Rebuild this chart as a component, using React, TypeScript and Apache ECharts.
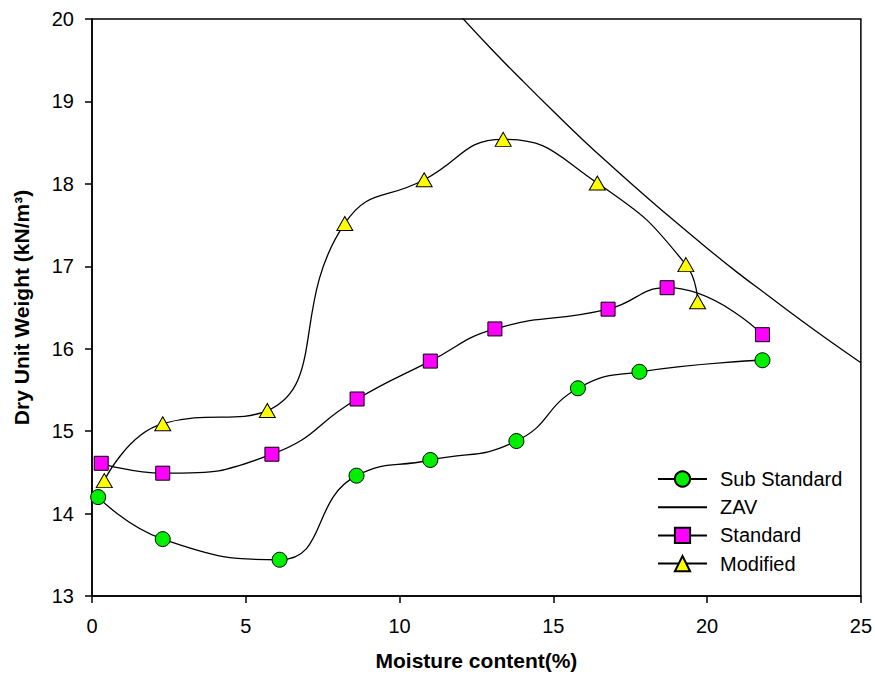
import React, { useEffect, useRef } from "react";
import * as echarts from "echarts";

const subStdX = [0.2, 2.3, 6.1, 8.6, 11.0, 13.8, 15.8, 17.8, 21.8];
const subStdY = [14.2, 13.69, 13.44, 14.46, 14.65, 14.88, 15.52, 15.72, 15.86];

const stdX = [0.3, 2.3, 5.85, 8.62, 11.0, 13.1, 16.78, 18.7, 21.8];
const stdY = [14.61, 14.49, 14.72, 15.39, 15.85, 16.24, 16.48, 16.74, 16.17];

const modX = [0.4, 2.3, 5.7, 8.22, 10.8, 13.37, 16.43, 19.31, 19.69];
const modY = [14.4, 15.09, 15.25, 17.52, 18.05, 18.54, 18.01, 17.02, 16.57];

const zavX = [12, 13, 14, 15, 16, 17, 18, 19, 20, 21, 22, 23, 24, 25];
const zavY = [20.03, 19.63, 19.25, 18.88, 18.52, 18.18, 17.85, 17.53, 17.22, 16.92, 16.64, 16.36, 16.09, 15.83];

const xTicks = [0, 5, 10, 15, 20, 25];
const yTicks = [13, 14, 15, 16, 17, 18, 19, 20];

const pairs = (xs: number[], ys: number[]) => xs.map((x, i) => [x, ys[i]]);

const FONT = "'Liberation Sans', Arial, Helvetica, sans-serif";

export default function App() {
  const ref = useRef<HTMLDivElement>(null);
  useEffect(() => {
    if (!ref.current) return;
    const chart = echarts.init(ref.current, undefined, { renderer: "svg" });
    const lineStyle = { color: "#000", width: 1.3 };
    chart.setOption({
      animation: false,
      backgroundColor: "#fff",
      textStyle: { fontFamily: FONT },
      grid: {
        left: 92,
        right: 14,
        top: 19,
        bottom: 81,
        show: true,
        borderColor: "#000",
        borderWidth: 1.5,
        backgroundColor: "transparent",
      },
      legend: {
        orient: "vertical",
        left: 652,
        top: 464,
        itemWidth: 49,
        itemHeight: 19,
        itemGap: 8.2,
        textStyle: { fontSize: 20, color: "#000", fontFamily: FONT, padding: [0, 0, 0, 8] },
        data: [
          "Sub Standard",
          { name: "ZAV", itemStyle: { color: "transparent", borderColor: "transparent", borderWidth: 0 } },
          "Standard",
          "Modified",
        ],
      },
      xAxis: {
        type: "value",
        min: xTicks[0],
        max: xTicks[xTicks.length - 1],
        interval: 5,
        name: "Moisture content(%)",
        nameLocation: "middle",
        nameGap: 54,
        nameTextStyle: { fontSize: 21, fontWeight: "bold", color: "#000", fontFamily: FONT },
        axisLine: { show: true, lineStyle: { color: "#000", width: 1.5 } },
        axisTick: { show: true, length: 7, lineStyle: { color: "#000", width: 1.5 } },
        axisLabel: { fontSize: 20, color: "#000", margin: 20, fontFamily: FONT },
        splitLine: { show: false },
      },
      yAxis: {
        type: "value",
        min: yTicks[0],
        max: yTicks[yTicks.length - 1],
        interval: 1,
        name: "Dry Unit Weight (kN/m³)",
        nameLocation: "middle",
        nameGap: 60,
        nameTextStyle: { fontSize: 21, fontWeight: "bold", color: "#000", fontFamily: FONT },
        axisLine: { show: true, lineStyle: { color: "#000", width: 1.5 } },
        axisTick: { show: true, length: 7, lineStyle: { color: "#000", width: 1.5 } },
        axisLabel: { fontSize: 20, color: "#000", margin: 18, fontFamily: FONT },
        splitLine: { show: false },
      },
      series: [
        {
          name: "Sub Standard",
          type: "line",
          data: pairs(subStdX, subStdY),
          smooth: 0.5,
          symbol: "circle",
          symbolSize: 15,
          lineStyle,
          itemStyle: { color: "#00ee00", borderColor: "#000", borderWidth: 1 },
          z: 3,
        },
        {
          name: "ZAV",
          type: "line",
          data: pairs(zavX, zavY),
          smooth: true,
          symbol: "none",
          lineStyle,
          itemStyle: { color: "#000" },
          z: 2,
        },
        {
          name: "Standard",
          type: "line",
          data: pairs(stdX, stdY),
          smooth: 0.5,
          symbol: "rect",
          symbolSize: 14,
          lineStyle,
          itemStyle: { color: "#ff00ff", borderColor: "#000", borderWidth: 1 },
          z: 3,
        },
        {
          name: "Modified",
          type: "line",
          data: pairs(modX, modY),
          smooth: 0.5,
          symbol: "triangle",
          symbolSize: [16, 14],
          lineStyle,
          itemStyle: { color: "#ffff00", borderColor: "#000", borderWidth: 1 },
          z: 3,
        },
      ],
    });
    return () => chart.dispose();
  }, []);
  return <div ref={ref} style={{ width: 875, height: 677, position: "absolute", left: 0, top: 0 }} />;
}
